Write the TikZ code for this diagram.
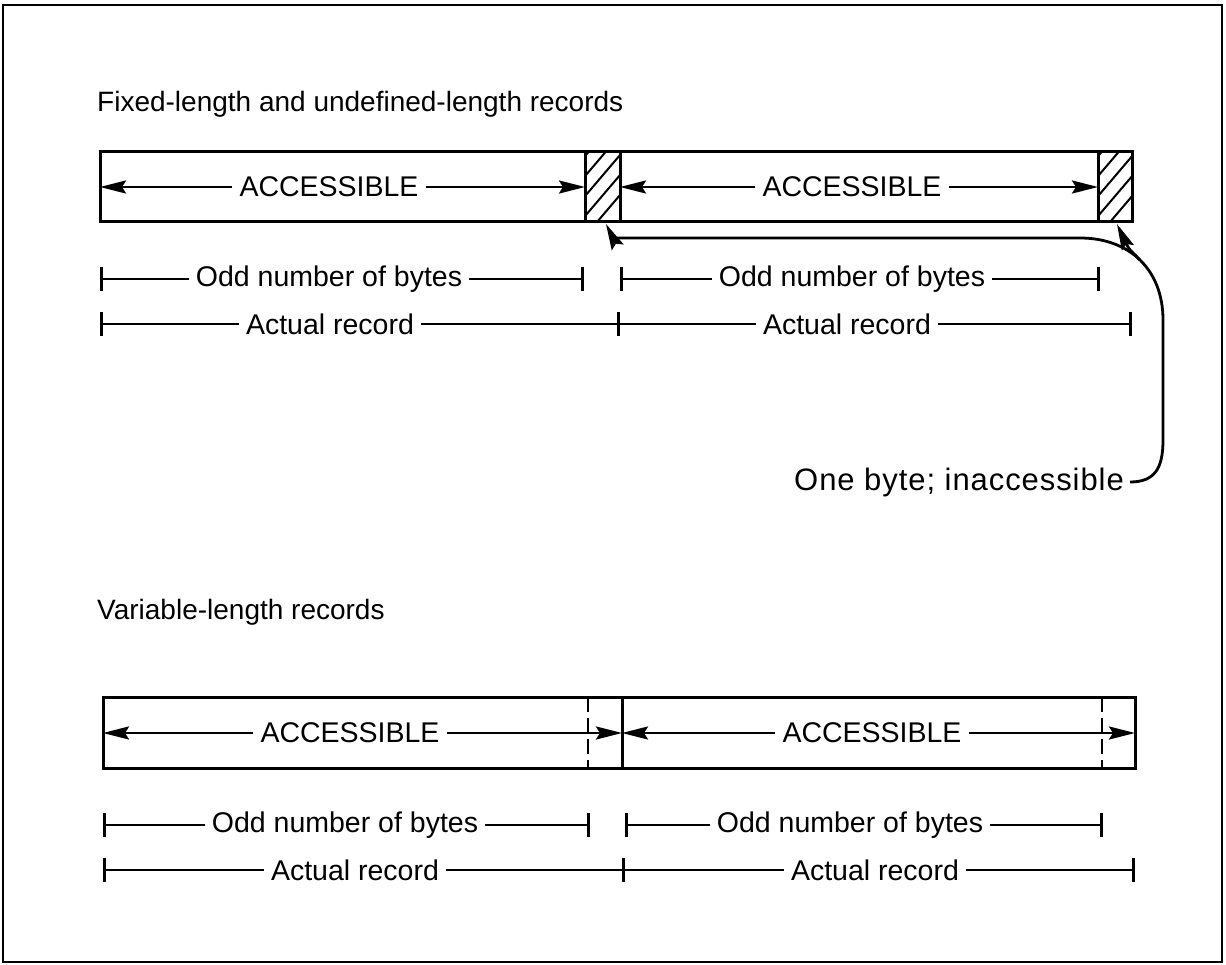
\documentclass[tikz,border=0pt]{standalone}
\usepackage{fontspec}
\setmainfont{Liberation Sans}
\usetikzlibrary{arrows.meta}
\begin{document}
\begin{tikzpicture}[x=1pt,y=-1pt,
  lbl/.style={font=\fontsize{28.5}{32}\selectfont, inner xsep=7pt, inner ysep=0pt},
  ttl/.style={font=\fontsize{28}{32}\selectfont, inner sep=0pt, anchor=west},
  boxline/.style={line width=3pt},
  dim/.style={line width=2.8pt},
  tip/.style={-{Stealth[length=26pt,width=13pt,inset=4pt]}},
  barl/.style={{Bar[width=24pt]}-},
  barr/.style={-{Bar[width=24pt]}},
  hatchline/.style={line width=2pt},
  dashline/.style={line width=2.6pt, dash pattern=on 15pt off 6pt}]
\useasboundingbox (0,0) rectangle (1226,965);
\draw[line width=1.6pt] (3,5) rectangle (1222,962);

% ---------- Fixed-length ----------
\node[ttl] (t1) at (97,104) {Fixed-length and undefined-length records};

\draw[boxline] (100,152) rectangle (1132,222);
\draw[boxline] (585,152) -- (585,222);
\draw[boxline] (620,152) -- (620,222);
\draw[boxline] (1098,152) -- (1098,222);
\begin{scope}
  \clip (585,152) rectangle (620,222);
  \foreach \k in {0,...,6} \draw[hatchline] (580,242-20*\k) -- (626,188-20*\k);
\end{scope}
\begin{scope}
  \clip (1098,152) rectangle (1132,222);
  \foreach \k in {0,...,6} \draw[hatchline] (1093,242-20*\k) -- (1139,188-20*\k);
\end{scope}

\coordinate (b1l) at (100,187);
\coordinate (h1l) at (585,187);
\coordinate (h1r) at (620,187);
\coordinate (h2l) at (1098,187);
\node[lbl] (a1) at (329,187) {ACCESSIBLE};
\node[lbl] (a2) at (852,187) {ACCESSIBLE};
\draw[dim,tip] (a1.west) -- (b1l);
\draw[dim,tip] (a1.east) -- (h1l);
\draw[dim,tip] (a2.west) -- (h1r);
\draw[dim,tip] (a2.east) -- (h2l);

\coordinate (o1a) at (100,279);
\coordinate (o1b) at (584,279);
\coordinate (o1c) at (620,279);
\coordinate (o1d) at (1100,279);
\node[lbl] (od1) at (329,279) {Odd number of bytes};
\node[lbl] (od2) at (852,279) {Odd number of bytes};
\draw[dim,barl] (o1a) -- (od1.west);
\draw[dim,barr] (od1.east) -- (o1b);
\draw[dim,barl] (o1c) -- (od2.west);
\draw[dim,barr] (od2.east) -- (o1d);

\coordinate (r1a) at (100,324);
\coordinate (r1m) at (620,324);
\coordinate (r1b) at (1132,324);
\node[lbl] (ar1) at (330,324) {Actual record};
\node[lbl] (ar2) at (847,324) {Actual record};
\draw[dim,barl] (r1a) -- (ar1.west);
\draw[dim,barr] (ar1.east) -- (r1m);
\draw[dim] (r1m) -- (ar2.west);
\draw[dim,barr] (ar2.east) -- (r1b);

\coordinate (tipA) at (606,224);
\coordinate (tipB) at (1117,224);
\coordinate (fork) at (1140,260);
\node[ttl, anchor=east, font=\fontsize{31}{34}\selectfont\addfontfeatures{LetterSpace=3}] (ob) at (1124,482) {One byte; inaccessible};
\draw[dim,tip] ([xshift=6pt]ob.east) .. controls (1155,482) and (1163,468) .. (1163,440)
  -- (1163,320) .. controls (1163,270) and (1130,238) .. (1080,238)
  -- (625,238) .. controls (613,238) .. (tipA);
\draw[dim,tip] (fork) .. controls (1128,248) .. (tipB);

% ---------- Variable-length ----------
\node[ttl] (t2) at (97,612) {Variable-length records};

\draw[boxline] (103,697) rectangle (1135,768);
\draw[boxline] (622,697) -- (622,768);
\draw[dashline] (588,697) -- (588,768);
\draw[dashline] (1102,697) -- (1102,768);

\coordinate (b2l) at (103,733);
\coordinate (d2m) at (622,733);
\coordinate (b2r) at (1135,733);
\node[lbl] (a3) at (350,733) {ACCESSIBLE};
\node[lbl] (a4) at (872,733) {ACCESSIBLE};
\draw[dim,tip] (a3.west) -- (b2l);
\draw[dim,tip] (a3.east) -- (d2m);
\draw[dim,tip] (a4.west) -- (d2m);
\draw[dim,tip] (a4.east) -- (b2r);

\coordinate (o2a) at (103,825);
\coordinate (o2b) at (590,825);
\coordinate (o2c) at (625,825);
\coordinate (o2d) at (1103,825);
\node[lbl] (od3) at (345,825) {Odd number of bytes};
\node[lbl] (od4) at (850,825) {Odd number of bytes};
\draw[dim,barl] (o2a) -- (od3.west);
\draw[dim,barr] (od3.east) -- (o2b);
\draw[dim,barl] (o2c) -- (od4.west);
\draw[dim,barr] (od4.east) -- (o2d);

\coordinate (r2a) at (103,870);
\coordinate (r2m) at (625,870);
\coordinate (r2b) at (1135,870);
\node[lbl] (ar3) at (355,870) {Actual record};
\node[lbl] (ar4) at (875,870) {Actual record};
\draw[dim,barl] (r2a) -- (ar3.west);
\draw[dim,barr] (ar3.east) -- (r2m);
\draw[dim] (r2m) -- (ar4.west);
\draw[dim,barr] (ar4.east) -- (r2b);
\end{tikzpicture}
\end{document}
